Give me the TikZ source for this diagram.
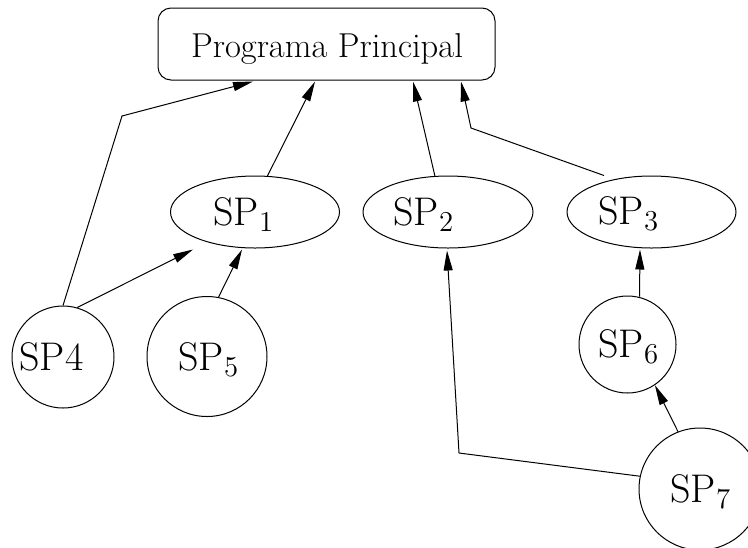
\documentclass[tikz,border=0pt]{standalone}
\usetikzlibrary{arrows.meta,shapes.geometric,calc}
\begin{document}
\begin{tikzpicture}[x=0.5pt,y=-0.5pt,
  line width=0.5pt,
  arr/.style={-{Triangle[length=10pt,width=4.5pt]}},
  oval/.style={draw,ellipse,inner sep=0pt,minimum width=84.5pt,minimum height=36pt},
  circ/.style={draw,circle,inner sep=0pt},
  mainbox/.style={draw,rectangle,rounded corners=6.5pt,inner sep=0pt,minimum width=168.5pt,minimum height=36pt},
  sptext/.style={anchor=base west,inner sep=0pt,font=\fontsize{20}{24}\selectfont},
  maintext/.style={anchor=base,inner sep=0pt,font=\fontsize{17.28}{21}\selectfont}]
\useasboundingbox (0,0) rectangle (748,547);
% shapes
\node[mainbox] (main) at (326.5,44) {};
\node[oval] (sp1) at (255,212) {};
\node[oval,minimum width=85pt] (sp2) at (448,212) {};
\node[oval] (sp3) at (651.5,212) {};
\node[circ,minimum size=51pt] (sp4) at (63,357) {};
\node[circ,minimum size=60pt] (sp5) at (207,356.5) {};
\node[circ,minimum size=48.5pt] (sp6) at (627.5,344.5) {};
\node[circ,minimum size=61pt] (sp7) at (700,489) {};
% texts
\node[maintext] (tmain) at (327,57) {Programa Principal};
\node[sptext] (t1) at (213,225) {SP$_1$};
\node[sptext] (t2) at (393,225) {SP$_2$};
\node[sptext] (t3) at (598,224) {SP$_3$};
\node[sptext] (t4) at (19,370) {SP4};
\node[sptext] (t5) at (178,370) {SP$_5$};
\node[sptext] (t6) at (598,357) {SP$_6$};
\node[sptext] (t7) at (670,502) {SP$_7$};
% bends
\coordinate (b1) at (122,116);
\coordinate (b3) at (471,128);
\coordinate (b9) at (459,453);
% connectors
\draw[arr] (sp4.north) -- (b1) -- ($(main.south)+(-73.5,1)$);
\draw[arr] (sp4.74) -- ($(sp1.south)+(-62,1)$);
\draw[arr] (sp5.79) -- ($(sp1.south)+(-13,1)$);
\draw[arr] (sp1.71) -- ($(main.south)+(-11.5,1)$);
\draw[arr] (sp2.110) -- ($(main.south)+(86.5,1)$);
\draw[arr] ($(sp3.north)+(-47.5,0)$) -- (b3) -- ($(main.south)+(134.5,1)$);
\draw[arr] ($(sp6.north)+(12,1)$) -- ($(sp3.south)+(-11.5,1)$);
\draw[arr] (sp7.111) -- (sp6.-56);
\draw[arr] (sp7.168) -- (b9) -- ($(sp2.south)+(-1,2)$);
\end{tikzpicture}
\end{document}
